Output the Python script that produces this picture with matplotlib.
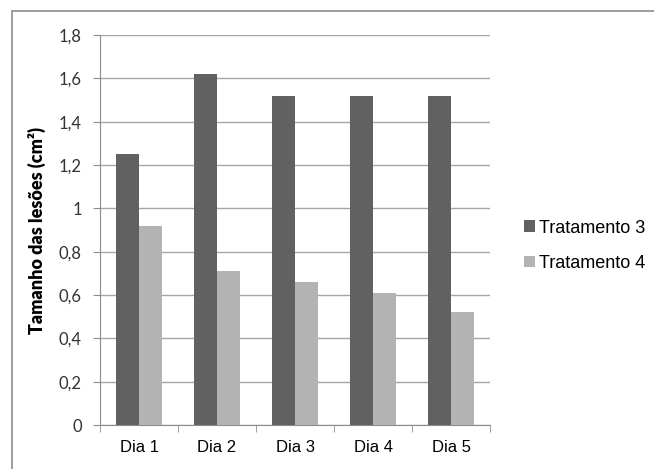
import matplotlib
matplotlib.use('Agg')
import matplotlib.pyplot as plt
import numpy as np
from matplotlib.patches import Rectangle

days = ['Dia 1', 'Dia 2', 'Dia 3', 'Dia 4', 'Dia 5']
tratamento_3 = [1.25, 1.62, 1.52, 1.52, 1.52]
tratamento_4 = [0.92, 0.71, 0.66, 0.61, 0.52]
y_ticks = [0, 0.2, 0.4, 0.6, 0.8, 1, 1.2, 1.4, 1.6, 1.8]
y_tick_labels = ['0', '0,2', '0,4', '0,6', '0,8', '1', '1,2', '1,4', '1,6', '1,8']


def main():
    fig = plt.figure(figsize=(6.54, 4.69), dpi=100)
    ax = fig.add_axes([100 / 654, 1 - 425 / 469, 390 / 654, 390 / 469])

    # outer chart frame (only top and left visible in the reference)
    fig.patches.append(Rectangle((12 / 654, -0.01), 1.0, 1 - 11 / 469 + 0.01,
                                 transform=fig.transFigure, fill=False,
                                 edgecolor='#8c8c8c', linewidth=1.2))

    x = np.arange(len(days))
    w = 0.295
    ax.bar(x - w / 2, tratamento_3, w, color='#616161', label='Tratamento 3', zorder=3)
    ax.bar(x + w / 2, tratamento_4, w, color='#b3b3b3', label='Tratamento 4', zorder=3)

    ax.set_xlim(-0.5, len(days) - 0.5)
    ax.set_ylim(0, 1.8)
    ax.set_yticks(y_ticks)
    ax.set_yticklabels(y_tick_labels, family='Lato', fontsize=12, color='#333333')
    ax.yaxis.grid(True, color='#a6a6a6', linewidth=1, zorder=0)

    ax.set_xticks(x)
    ax.set_xticklabels(days, family='Liberation Sans', fontsize=12)
    ax.set_xticks(np.arange(-0.5, len(days)), minor=True)
    ax.tick_params(axis='x', which='major', length=0, pad=11)
    ax.tick_params(axis='x', which='minor', length=5, color='#8c8c8c')
    ax.tick_params(axis='y', length=5, color='#8c8c8c', pad=8)

    for side in ['top', 'right']:
        ax.spines[side].set_visible(False)
    ax.spines['left'].set_color('#8c8c8c')
    ax.spines['bottom'].set_color('#8c8c8c')

    ax.set_ylabel('Tamanho das lesões (cm²)', family='Lato', fontweight='heavy',
                  fontsize=13, labelpad=9)

    ax.legend(loc='center left', bbox_to_anchor=(1.045, 0.46), frameon=False,
              prop={'family': 'Liberation Sans', 'size': 13},
              handlelength=0.6, handleheight=0.6, handletextpad=0.25,
              labelspacing=1.0)

    fig.savefig('out.png', dpi=100)


if __name__ == '__main__':
    main()
